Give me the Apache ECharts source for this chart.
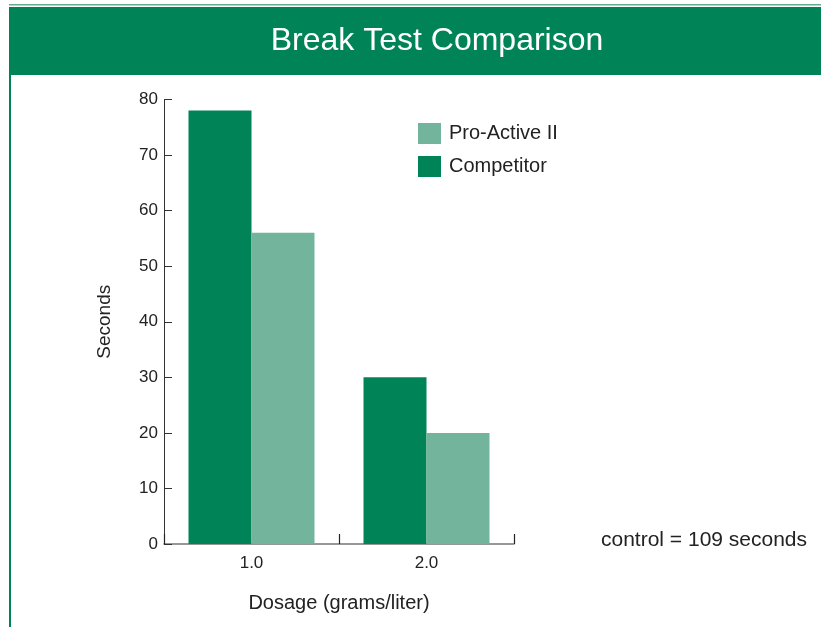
<!DOCTYPE html>
<html>
<head>
<meta charset="utf-8">
<script src="https://cdn.jsdelivr.net/npm/echarts@6/dist/echarts.min.js"></script>
<style>
  html, body { margin: 0; padding: 0; background: #fff; }
  #chart { width: 821px; height: 627px; }
</style>
</head>
<body>
<div id="chart"></div>
<script>
// data
const dosages = ['1.0', '2.0']
const competitor = [78, 30]
const proActive = [56, 20]
const yTicks = [0, 10, 20, 30, 40, 50, 60, 70, 80]

const darkGreen = '#008457'
const lightGreen = '#72b59c'
const font = 'Helvetica, Arial, "Liberation Sans", sans-serif'

const chart = echarts.init(document.getElementById('chart'))
chart.setOption({
  backgroundColor: '#fff',
  animation: false,
  textStyle: { fontFamily: font },
  graphic: [
    { type: 'rect', shape: { x: 9, y: 4, width: 812, height: 1.5 }, style: { fill: '#5fae8c' } },
    { type: 'rect', shape: { x: 9, y: 7, width: 812, height: 68 }, style: { fill: darkGreen } },
    { type: 'rect', shape: { x: 9, y: 75, width: 2, height: 552 }, style: { fill: darkGreen } },
    {
      type: 'text', x: 437, y: 41,
      style: { text: 'Break Test Comparison', fill: '#fff', font: '32px ' + font, align: 'center', verticalAlign: 'middle' }
    },
    {
      type: 'text', x: 601, y: 540,
      style: { text: 'control = 109 seconds', fill: '#222', font: '21px ' + font, verticalAlign: 'middle' }
    }
  ],
  legend: {
    orient: 'vertical',
    left: 413,
    top: 118,
    itemWidth: 23,
    itemHeight: 21,
    itemGap: 12,
    textStyle: { fontSize: 20, color: '#222', padding: [0, 0, 0, 3] },
    data: [
      { name: 'Pro-Active II', icon: 'rect' },
      { name: 'Competitor', icon: 'rect' }
    ]
  },
  grid: { left: 164, right: 307, top: 99.5, bottom: 83 },
  xAxis: {
    type: 'category',
    data: dosages,
    name: 'Dosage (grams/liter)',
    nameLocation: 'middle',
    nameGap: 49,
    nameTextStyle: { fontSize: 20, color: '#222' },
    axisLine: { lineStyle: { color: '#777', width: 1.5 } },
    axisTick: { show: true, inside: true, length: 10, lineStyle: { color: '#222', width: 1.2 } },
    axisLabel: { fontSize: 17, color: '#222', margin: 11 }
  },
  yAxis: {
    type: 'value',
    min: yTicks[0],
    max: yTicks[yTicks.length - 1],
    interval: 10,
    name: 'Seconds',
    nameLocation: 'middle',
    nameGap: 50,
    nameTextStyle: { fontSize: 19, color: '#222' },
    axisLine: { show: true, lineStyle: { color: '#333', width: 1 } },
    axisTick: { show: true, inside: true, length: 8, lineStyle: { color: '#333' } },
    axisLabel: { fontSize: 17, color: '#222', margin: 6 },
    splitLine: { show: false }
  },
  series: [
    {
      name: 'Competitor',
      type: 'bar',
      data: competitor,
      itemStyle: { color: darkGreen },
      barGap: '0%',
      barCategoryGap: '28%'
    },
    {
      name: 'Pro-Active II',
      type: 'bar',
      data: proActive,
      itemStyle: { color: lightGreen },
      barGap: '0%',
      barCategoryGap: '28%'
    }
  ]
})
</script>
</body>
</html>
